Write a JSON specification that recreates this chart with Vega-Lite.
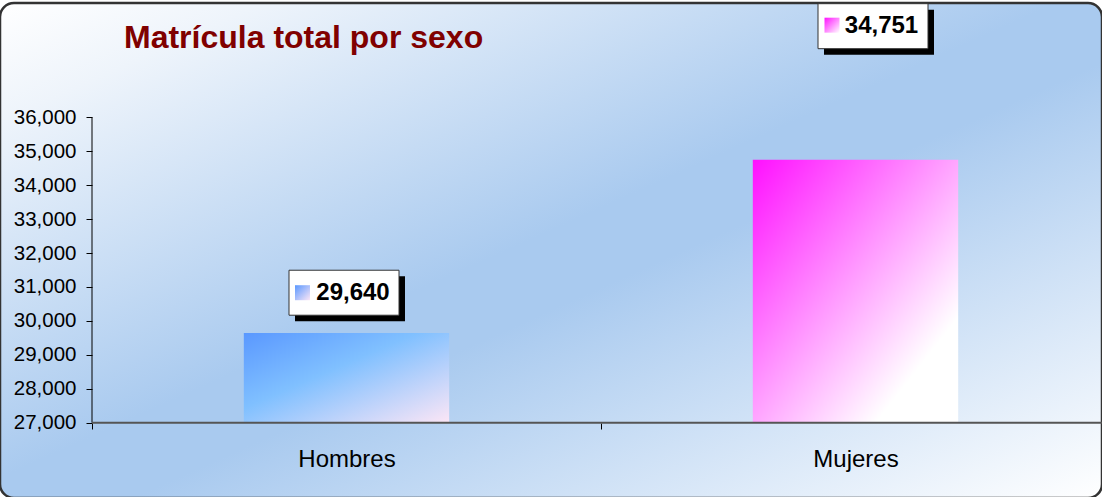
{
  "$schema": "https://vega.github.io/schema/vega-lite/v6.json",
  "width": 1102,
  "height": 495,
  "autosize": "none",
  "padding": {"top": 3, "left": 0, "right": 0, "bottom": 0},
  "background": "#ffffff",
  "title": {
    "text": "Matrícula total por sexo",
    "anchor": "start",
    "frame": "group",
    "dx": 124,
    "offset": -53,
    "font": "Liberation Sans",
    "fontSize": 32,
    "fontWeight": "bold",
    "color": "#800000"
  },
  "config": {
    "font": "Liberation Sans",
    "view": {
      "fill": {
        "gradient": "linear",
        "x1": 0, "y1": 0, "x2": 1, "y2": 1,
        "stops": [
          {"offset": 0, "color": "#ffffff"},
          {"offset": 0.12, "color": "#eef4fb"},
          {"offset": 0.48, "color": "#a9caef"},
          {"offset": 0.56, "color": "#a9caef"},
          {"offset": 1, "color": "#ffffff"}
        ]
      },
      "stroke": "#333333",
      "strokeWidth": 2.5,
      "cornerRadius": 14
    }
  },
  "data": {
    "values": [
      {"sexo": "Hombres", "matricula": 29640},
      {"sexo": "Mujeres", "matricula": 34751}
    ]
  },
  "encoding": {
    "x": {
      "field": "sexo",
      "type": "nominal",
      "sort": null,
      "scale": {"range": [92, 1110], "paddingInner": 0, "paddingOuter": 0},
      "axis": {
        "orient": "bottom",
        "offset": -75,
        "domain": false,
        "tickBand": "extent",
        "tickSize": 6,
        "tickColor": "#000000",
        "labelAngle": 0,
        "labelFontSize": 24,
        "labelColor": "#000000",
        "labelPadding": 18,
        "title": null
      }
    },
    "y": {
      "field": "matricula",
      "type": "quantitative",
      "scale": {"domain": [24780.7, 39368.7], "nice": false, "zero": false},
      "axis": {
        "orient": "left",
        "offset": -92,
        "values": [27000, 28000, 29000, 30000, 31000, 32000, 33000, 34000, 35000, 36000],
        "format": ",",
        "labelExpr": "format(datum.value, ',')",
        "domain": false,
        "grid": false,
        "tickSize": 6,
        "tickColor": "#000000",
        "labelFontSize": 20.5,
        "labelColor": "#000000",
        "labelPadding": 10,
        "title": null
      }
    }
  },
  "layer": [
    {
      "transform": [{"filter": "datum.sexo == 'Hombres'"}],
      "layer": [
        {
          "mark": {
            "type": "bar",
            "width": {"band": 0.4035},
            "fill": {
              "gradient": "linear",
              "x1": 0, "y1": 0, "x2": 1, "y2": 1,
              "stops": [
                {"offset": 0, "color": "#5a98ff"},
                {"offset": 0.42, "color": "#80c0ff"},
                {"offset": 1, "color": "#fce6f6"}
              ]
            }
          },
          "encoding": {"y2": {"datum": 27000}}
        },
        {
          "mark": {"type": "point", "shape": "M-1,-0.409L1,-0.409L1,0.409L-1,0.409Z", "size": 12100, "filled": true, "fill": "#000000", "strokeWidth": 0, "opacity": 1, "xOffset": 3.5, "yOffset": -34.4}
        },
        {
          "mark": {"type": "point", "shape": "M-1,-0.409L1,-0.409L1,0.409L-1,0.409Z", "size": 12100, "filled": true, "fill": "#ffffff", "stroke": "#333333", "strokeWidth": 1, "opacity": 1, "xOffset": -2.5, "yOffset": -40.4}
        },
        {
          "mark": {
            "type": "square", "size": 225, "opacity": 1, "strokeWidth": 0, "xOffset": -44, "yOffset": -40.4,
            "fill": {
              "gradient": "linear",
              "x1": 0, "y1": 0, "x2": 1, "y2": 1,
              "stops": [
                {"offset": 0, "color": "#5a98ff"},
                {"offset": 1, "color": "#fce6f6"}
              ]
            }
          }
        },
        {
          "mark": {"type": "text", "fontSize": 24, "fontWeight": "bold", "color": "#000000", "align": "center", "baseline": "middle", "xOffset": 6.5, "yOffset": -40.4},
          "encoding": {"text": {"field": "matricula", "type": "quantitative", "format": ","}}
        }
      ]
    },
    {
      "transform": [{"filter": "datum.sexo == 'Mujeres'"}],
      "layer": [
        {
          "mark": {
            "type": "bar",
            "width": {"band": 0.4035},
            "fill": {
              "gradient": "linear",
              "x1": 0, "y1": 0, "x2": 1, "y2": 1,
              "stops": [
                {"offset": 0, "color": "#ff10ff"},
                {"offset": 0.8, "color": "#ffffff"},
                {"offset": 1, "color": "#ffffff"}
              ]
            }
          },
          "encoding": {"y2": {"datum": 27000}}
        },
        {
          "mark": {"type": "point", "shape": "M-1,-0.409L1,-0.409L1,0.409L-1,0.409Z", "size": 12100, "filled": true, "fill": "#000000", "strokeWidth": 0, "opacity": 1, "xOffset": 23.5, "yOffset": -127.5}
        },
        {
          "mark": {"type": "point", "shape": "M-1,-0.409L1,-0.409L1,0.409L-1,0.409Z", "size": 12100, "filled": true, "fill": "#ffffff", "stroke": "#333333", "strokeWidth": 1, "opacity": 1, "xOffset": 17.5, "yOffset": -133.5}
        },
        {
          "mark": {
            "type": "square", "size": 225, "opacity": 1, "strokeWidth": 0, "xOffset": -23.5, "yOffset": -134.5,
            "fill": {
              "gradient": "linear",
              "x1": 0, "y1": 0, "x2": 1, "y2": 1,
              "stops": [
                {"offset": 0, "color": "#ff10ff"},
                {"offset": 1, "color": "#ffffff"}
              ]
            }
          }
        },
        {
          "mark": {"type": "text", "fontSize": 24, "fontWeight": "bold", "color": "#000000", "align": "center", "baseline": "middle", "xOffset": 26, "yOffset": -134},
          "encoding": {"text": {"field": "matricula", "type": "quantitative", "format": ","}}
        }
      ]
    },
    {
      "transform": [{"filter": "datum.sexo == 'Hombres'"}],
      "mark": {"type": "rule", "color": "#000000", "strokeWidth": 1},
      "encoding": {
        "x": {"field": "sexo", "type": "nominal", "bandPosition": 0},
        "y": {
          "datum": 27000,
          "type": "quantitative",
          "axis": {
            "orient": "left",
            "offset": -92,
            "values": [27000, 28000, 29000, 30000, 31000, 32000, 33000, 34000, 35000, 36000],
            "format": ",",
            "labelExpr": "format(datum.value, ',')",
            "domain": false,
            "grid": false,
            "tickSize": 6,
            "tickColor": "#000000",
            "labelFontSize": 20.5,
            "labelColor": "#000000",
            "labelPadding": 10,
            "title": null
          }
        },
        "y2": {"datum": 36000}
      }
    },
    {
      "mark": {"type": "rule", "color": "#555555", "strokeWidth": 2},
      "encoding": {
        "y": {
          "datum": 27000,
          "type": "quantitative",
          "axis": {
            "orient": "left",
            "offset": -92,
            "values": [27000, 28000, 29000, 30000, 31000, 32000, 33000, 34000, 35000, 36000],
            "format": ",",
            "labelExpr": "format(datum.value, ',')",
            "domain": false,
            "grid": false,
            "tickSize": 6,
            "tickColor": "#000000",
            "labelFontSize": 20.5,
            "labelColor": "#000000",
            "labelPadding": 10,
            "title": null
          }
        },
        "x": {"field": "sexo", "type": "nominal", "bandPosition": 0},
        "x2": {"field": "sexo", "bandPosition": 1}
      }
    }
  ]
}
